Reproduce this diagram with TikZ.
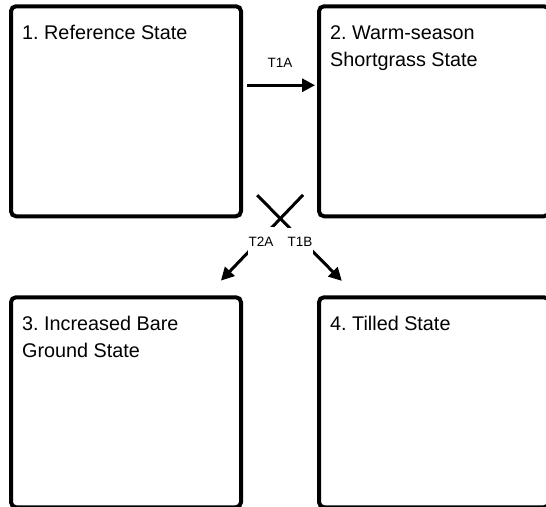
\documentclass[tikz,border=0pt]{standalone}
\usepackage{fontspec}
\setmainfont{Liberation Sans}
\frenchspacing
\usetikzlibrary{positioning,arrows.meta,calc}

\begin{document}
\begin{tikzpicture}[x=1pt, y=-1pt,
    box/.style={draw, rounded corners=5pt, line width=4pt, minimum width=230pt, minimum height=210pt, outer sep=0pt, inner sep=0pt},
    title/.style={anchor=base west, align=left, inner sep=0pt, font=\fontsize{19.8}{27}\selectfont},
    arrow/.style={-{Triangle[length=13pt,width=13pt]}, line width=3pt},
    tlabel/.style={font=\fontsize{13.5}{15}\selectfont, fill=white, inner xsep=1pt, inner ysep=10pt}
]
  \clip (0,0) rectangle (546,506);

  % Top row: states 1 and 2
  \node[box] (ref_state) at (126,111.25) {};
  \node[box, right=78pt of ref_state] (shortgrass_state) {};

  % Bottom row: states 3 and 4
  \node[box, below=81pt of ref_state] (bareground_state) {};
  \node[box, right=78pt of bareground_state] (tilled_state) {};

  % State names (base anchor sits on the last line)
  \node[title] (ref_text) at ([shift={(11pt,-33pt)}]ref_state.north west) {1. Reference State};
  \node[title] (shortgrass_text) at ([shift={(11pt,-60pt)}]shortgrass_state.north west) {2. Warm-season\\Shortgrass State};
  \node[title] (bareground_text) at ([shift={(11pt,-60pt)}]bareground_state.north west) {3. Increased Bare\\Ground State};
  \node[title] (tilled_text) at ([shift={(11pt,-33pt)}]tilled_state.north west) {4. Tilled State};

  % Transitions
  \draw[arrow, shorten <=6pt, shorten >=4pt] ([yshift=26pt]ref_state.east) -- node[above=16pt, inner sep=0pt, font=\fontsize{13.5}{15}\selectfont] (t1a) {T1A} ([yshift=26pt]shortgrass_state.west);
  \draw[arrow, shorten <=23pt, shorten >=23pt] ([yshift=-67pt]shortgrass_state.west) -- node[tlabel, pos=0.536, xshift=3pt] (t2a) {T2A} ([xshift=-36pt]bareground_state.north east);
  \draw[arrow, shorten <=23pt, shorten >=23pt] ([yshift=-67.5pt]ref_state.east) -- node[tlabel, pos=0.535, xshift=-3.5pt] (t1b) {T1B} ([xshift=39pt]tilled_state.north west);

\end{tikzpicture}
\end{document}
